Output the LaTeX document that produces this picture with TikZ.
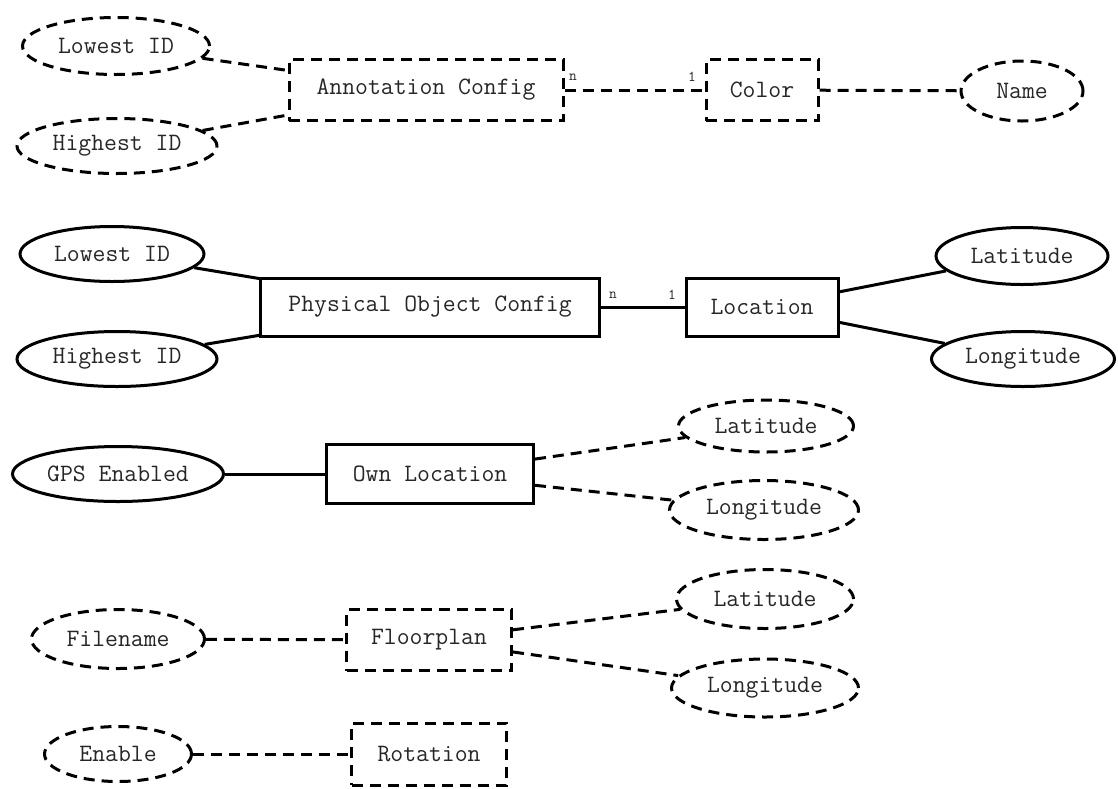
\documentclass[tikz,border=0pt]{standalone}
\usetikzlibrary{shapes.geometric}
\begin{document}
\begin{tikzpicture}[x=1pt,y=-1pt,
  every node/.style={font=\ttfamily\fontsize{25}{28}\selectfont, inner sep=0pt, text=black!85},
  ent/.style={draw, rectangle, line width=3pt},
  attr/.style={draw, ellipse, line width=3pt},
  dsh/.style={dash pattern=on 11pt off 7pt},
  link/.style={line width=3pt},
  card/.style={font=\ttfamily\fontsize{15}{17}\selectfont}
]
\useasboundingbox (0,0) rectangle (1118,788);

% --- Annotation configuration (optional, dashed)
\node[attr,dsh,minimum width=187,minimum height=57] (alow) at (116,46) {Lowest ID};
\node[attr,dsh,minimum width=200,minimum height=55] (ahigh) at (117,146) {Highest ID};
\node[ent,dsh,minimum width=274,minimum height=61] (ac) at (426,90) {Annotation Config};
\node[ent,dsh,minimum width=112,minimum height=61] (color) at (762,90) {Color};
\node[attr,dsh,minimum width=122,minimum height=60] (cname) at (1022,91) {Name};
\draw[link,dsh] (alow) -- (ac);
\draw[link,dsh] (ahigh) -- (ac);
\draw[link,dsh] (ac) -- (color);
\draw[link,dsh] (color) -- (cname);
\node[card] (acn) at (573,77) {n};
\node[card] (ac1) at (692,77) {1};

% --- Physical object configuration
\node[attr,minimum width=184,minimum height=55] (plow) at (112,254) {Lowest ID};
\node[attr,minimum width=200,minimum height=55] (phigh) at (117,359) {Highest ID};
\node[ent,minimum width=339,minimum height=58] (poc) at (430,307) {Physical Object Config};
\node[ent,minimum width=152,minimum height=58] (loc) at (762,307) {Location};
\node[attr,minimum width=172,minimum height=57] (llat) at (1022,256) {Latitude};
\node[attr,minimum width=183,minimum height=55] (llon) at (1023,359) {Longitude};
\draw[link] (plow) -- (poc);
\draw[link] (phigh) -- (poc);
\draw[link] (poc) -- (loc);
\draw[link] (loc) -- (llat);
\draw[link] (loc) -- (llon);
\node[card] (pn) at (613,295) {n};
\node[card] (p1) at (672,295) {1};

% --- Own location
\node[attr,minimum width=211,minimum height=55] (gps) at (118,474) {GPS Enabled};
\node[ent,minimum width=207,minimum height=59] (own) at (430,474) {Own Location};
\node[attr,dsh,minimum width=175,minimum height=52] (olat) at (766,426) {Latitude};
\node[attr,dsh,minimum width=189,minimum height=59] (olon) at (764,510) {Longitude};
\draw[link] (gps) -- (own);
\draw[link,dsh] (own) -- (olat);
\draw[link,dsh] (own) -- (olon);

% --- Floorplan
\node[attr,dsh,minimum width=173,minimum height=59] (fname) at (118,639) {Filename};
\node[ent,dsh,minimum width=165,minimum height=61] (floor) at (429,640) {Floorplan};
\node[attr,dsh,minimum width=177,minimum height=59] (flat) at (765,599) {Latitude};
\node[attr,dsh,minimum width=187,minimum height=58] (flon) at (765,688) {Longitude};
\draw[link,dsh] (fname) -- (floor);
\draw[link,dsh] (floor) -- (flat);
\draw[link,dsh] (floor) -- (flon);

% --- Rotation
\node[attr,dsh,minimum width=147,minimum height=55] (ren) at (118,754) {Enable};
\node[ent,dsh,minimum width=155,minimum height=62] (rot) at (429,754) {Rotation};
\draw[link,dsh] (ren) -- (rot);
\end{tikzpicture}
\end{document}
